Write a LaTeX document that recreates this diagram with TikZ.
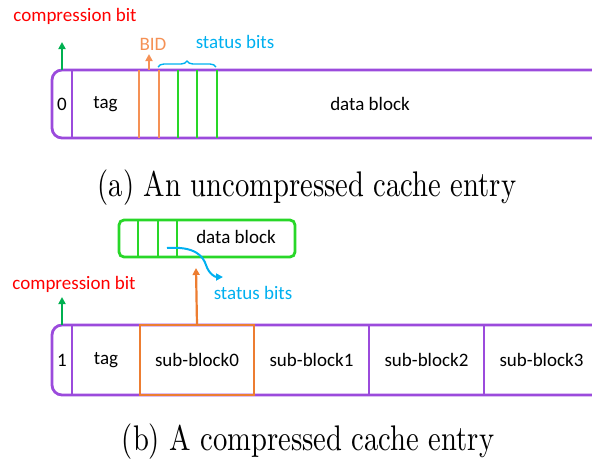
\documentclass[tikz,border=0pt]{standalone}
\usepackage{fontspec}
\newfontfamily\cali{Carlito}
\newcommand\calfont{\cali\fontsize{19}{23}\selectfont}
\usetikzlibrary{positioning,arrows.meta,decorations.pathreplacing}
\definecolor{cpurple}{RGB}{155,75,220}
\definecolor{corange}{RGB}{237,125,49}
\definecolor{clorange}{RGB}{245,145,85}
\definecolor{cgreen}{RGB}{40,215,40}
\definecolor{cdgreen}{RGB}{0,176,80}
\definecolor{cblue}{RGB}{0,176,240}
\tikzset{
  entry/.style={draw=cpurple,line width=2.8pt},
  cell/.style={inner sep=0pt,outer sep=0pt,font=\calfont},
  lbl/.style={inner sep=0pt,font=\calfont},
  tip/.style={-{Triangle[length=7pt,width=7pt]},line width=2.2pt},
  caption/.style={anchor=base,xscale=2.86,yscale=3.56,inner sep=0pt}
}
\begin{document}
\begin{tikzpicture}[x=1pt,y=-1pt]
\useasboundingbox (0,0) rectangle (592,459);
% (a) uncompressed entry
\draw[entry,rounded corners=10pt] (592,70) -- (52,70) -- (52,138) -- (592,138);
\node[cell,minimum width=20pt,minimum height=68pt] (bitA) at (62,104) {0};
\node[cell,minimum width=67pt,minimum height=68pt,right=0pt of bitA] (tagA) {tag};
\node[lbl] (dataA) at (370,104) {data block};
\draw[entry] (bitA.north east) -- (bitA.south east);
\foreach \x in {139,159} \draw[clorange,line width=2.5pt] (\x,70) -- (\x,138);
\foreach \x in {178,197,217} \draw[cgreen,line width=2.5pt] (\x,70) -- (\x,138);
% labels above
\node[lbl,red] (cbA) at (75,16) {compression bit};
\coordinate (cbtipA) at (62,42);
\draw[tip,cdgreen] (bitA.north) -- (cbtipA);
\node[lbl,clorange] (bid) at (153,44) {BID};
\coordinate (bidA) at (149,70);
\coordinate (bidtip) at (149,54);
\draw[tip,clorange] (bidA) -- (bidtip);
\draw[cblue,line width=1.4pt,decorate,decoration={brace,amplitude=6pt}] (158,67) -- (216,67);
\node[lbl,cblue] (stA) at (235,42) {status bits};
\node[caption] (capA) at (307,196) {(a) An uncompressed cache entry};

% (b) compressed entry
\node[draw=cgreen,line width=2.8pt,rounded corners=5pt,minimum width=176pt,minimum height=37pt,inner sep=0pt] (blkB) at (207,238.5) {};
\foreach \x in {138,158,177} \draw[cgreen,line width=2.5pt] (\x,220) -- (\x,257);
\node[lbl] (dataB) at (236,237) {data block};
\coordinate (sbits) at (167,248);
\node[lbl,cblue] (stB) at (253,293) {status bits};
\draw[cblue,line width=2pt,-{Triangle[length=7pt,width=7pt]}] (sbits) .. controls (195,246) and (203,256) .. (206,265) .. controls (209,274) and (215,277) .. (223,277);

\draw[entry,rounded corners=10pt] (592,325) -- (52,325) -- (52,395) -- (592,395);
\node[cell,minimum width=20pt,minimum height=70pt] (bitB) at (62,360) {1};
\node[cell,minimum width=68pt,minimum height=70pt,right=0pt of bitB] (tagB) {tag};
\node[cell,minimum width=114pt,minimum height=70pt,right=0pt of tagB] (sb0) {sub-block0};
\node[cell,minimum width=115pt,minimum height=70pt,right=0pt of sb0] (sb1) {sub-block1};
\node[cell,minimum width=115pt,minimum height=70pt,right=0pt of sb1] (sb2) {sub-block2};
\node[cell,minimum width=115pt,minimum height=70pt,right=0pt of sb2] (sb3) {sub-block3};
\draw[entry] (bitB.north east) -- (bitB.south east);
\draw[entry] (sb1.north east) -- (sb1.south east);
\draw[entry] (sb2.north east) -- (sb2.south east);
\draw[corange,line width=2.8pt] (sb0.north west) rectangle (sb0.south east);
\node[lbl,red] (cbB) at (74,284) {compression bit};
\coordinate (cbtipB) at (62,297);
\draw[tip,cdgreen] (bitB.north) -- (cbtipB);
\coordinate (uptip) at (196,268);
\draw[tip,corange] (sb0.north) -- (uptip);
\node[caption] (capB) at (308,450) {(b) A compressed cache entry};
\end{tikzpicture}
\end{document}
